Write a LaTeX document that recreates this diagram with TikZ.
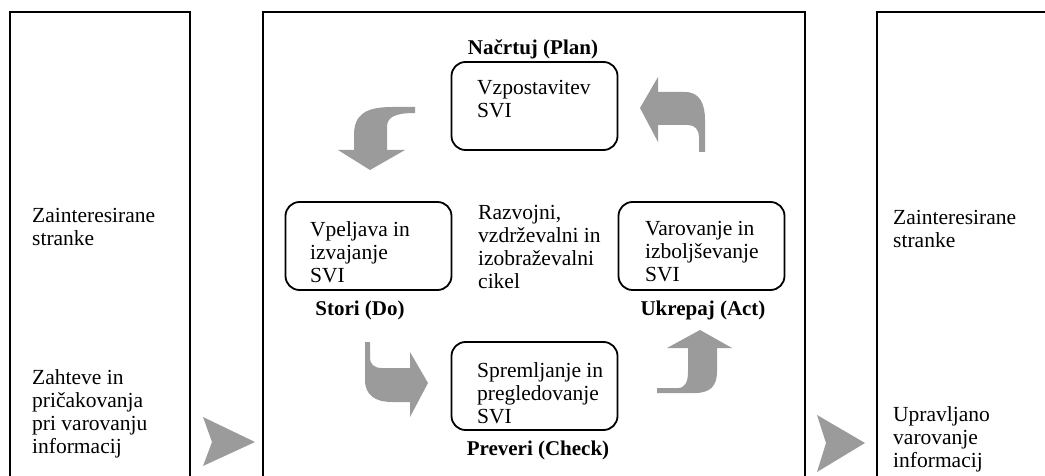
\documentclass[tikz,border=0pt]{standalone}
\usepackage{fontspec}
\usepackage{tikz}
\setmainfont{Liberation Serif}
\definecolor{arrowgray}{RGB}{155,155,155}

\begin{document}
\begin{tikzpicture}[x=1pt,y=-1pt,
    frame/.style={line width=1.8pt},
    stage/.style={draw,line width=1.8pt,rounded corners=14pt,minimum width=166pt,minimum height=88pt,inner sep=0pt},
    txt/.style={anchor=north west,align=left,inner sep=0pt,font=\fontsize{21.5}{23}\selectfont},
    tag/.style={anchor=base,inner sep=0pt,font=\fontsize{21}{23}\selectfont\bfseries},
    bentarrow/.style={fill=arrowgray}]
        \useasboundingbox (0,0) rectangle (1045,476);
        \clip (0,0) rectangle (1045,476);
        % outer frames
        \draw [frame] (10,490) -- (10,12) -- (190,12) -- (190,490);
        \draw [frame] (263,490) -- (263,12) -- (805,12) -- (805,490);
        \draw [frame] (877,490) -- (877,12) -- (1060,12);
        % left column
        \node [txt] (ininterest) at (32,208) {Zainteresirane\\stranke};
        \node [txt] (inneeds) at (32,369) {Zahteve in\\pričakovanja\\pri varovanju\\informacij};
        \fill [bentarrow] plot coordinates {(203,417) (255,442) (203,466) (212,442)} -- cycle;
        % cycle
        \node [tag] (plantag) at (533,55) {Načrtuj (Plan)};
        \node [stage] (plan) at (534.5,106) {};
        \node [txt] (plantext) at (477,80) {Vzpostavitev\\SVI};
        \node [stage] (do) at (368.5,246) {};
        \node [txt] (dotext) at (310,221) {Vpeljava in\\izvajanje\\SVI};
        \node [tag] (dotag) at (360,315) {Stori (Do)};
        \node [txt] (cycletext) at (478,205) {Razvojni,\\vzdrževalni in\\izobraževalni\\cikel};
        \node [stage] (act) at (701.5,246) {};
        \node [txt] (acttext) at (645,221) {Varovanje in\\izboljševanje\\SVI};
        \node [tag] (acttag) at (703,315) {Ukrepaj (Act)};
        \node [stage] (check) at (534.5,386) {};
        \node [txt] (checktext) at (477,362) {Spremljanje in\\pregledovanje\\SVI};
        \node [tag] (checktag) at (538,455) {Preveri (Check)};
        % bent arrows
        \fill [bentarrow] (415,107) -- (392,107) .. controls (365,107) and (354,115) .. (354,135) -- (354,150)
            -- (338,150) -- (370,170) -- (405,150) -- (387,150) -- (387,127)
            .. controls (387,117) and (395,113) .. (415,113) -- cycle;
        \fill [bentarrow] (705,152) -- (705,120) .. controls (705,104) and (700,92) .. (685,92) -- (658,92)
            -- (658,77) -- (640,108) -- (658,142) -- (658,125) -- (688,125)
            .. controls (695,125) and (699,130) .. (699,137) -- (699,152) -- cycle;
        \fill [bentarrow] (365,342) -- (365,380) .. controls (365,395) and (375,402) .. (392,402) -- (410,402)
            -- (410,417) -- (428,383) -- (410,352) -- (410,368) -- (382,368)
            .. controls (374,368) and (370,364) .. (370,358) -- (370,342) -- cycle;
        \fill [bentarrow] (657,393) -- (695,393) .. controls (710,393) and (717,386) .. (717,372) -- (717,348)
            -- (732,348) -- (700,330) -- (667,348) -- (688,348) -- (688,372)
            .. controls (688,382) and (685,388) .. (678,388) -- (657,388) -- cycle;
        % right column
        \fill [bentarrow] plot coordinates {(817,415) (865,443) (817,472) (826,443)} -- cycle;
        \node [txt] (outinterest) at (893,210) {Zainteresirane\\stranke};
        \node [txt] (outresult) at (893,406) {Upravljano\\varovanje\\informacij};
\end{tikzpicture}
\end{document}
